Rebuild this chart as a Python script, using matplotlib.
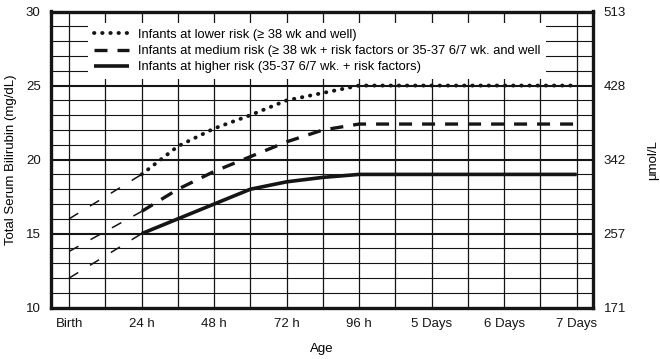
import matplotlib
matplotlib.use("Agg")
import matplotlib.pyplot as plt

plt.rcParams['font.family'] = ['Liberation Sans', 'DejaVu Sans']

# ======================================================
# Data (hours after birth, mg/dL)
# ======================================================

hours = [24, 36, 48, 60, 72, 84, 96, 168]

lower_risk = [19.0, 20.9, 22.1, 23.0, 24.0, 24.5, 25.0, 25.0]
medium_risk = [16.5, 18.0, 19.2, 20.2, 21.2, 22.0, 22.4, 22.4]
higher_risk = [15.0, 16.0, 17.0, 18.0, 18.5, 18.8, 19.0, 19.0]

# thin dashed extension back to birth
ext_hours = [0, 24]
lower_ext = [16.0, 19.0]
medium_ext = [13.8, 16.5]
higher_ext = [12.0, 15.0]

age_ticks = [0, 24, 48, 72, 96, 120, 144, 168]
age_labels = ["Birth", "24 h", "48 h", "72 h", "96 h",
              "5 Days", "6 Days", "7 Days"]

mg_ticks = [10, 15, 20, 25, 30]
umol_labels = ["171", "257", "342", "428", "513"]

labels = [
    "Infants at lower risk (\u2265 38 wk and well)",
    "Infants at medium risk (\u2265 38 wk + risk factors or 35-37 6/7 wk. and well",
    "Infants at higher risk (35-37 6/7 wk. + risk factors)",
]

# ======================================================
# Plot
# ======================================================

ink = '#151515'
fs = 9.5

fig = plt.figure(figsize=(6.6, 3.59), dpi=100)
ax = fig.add_axes([51/660, 1-307.7/359, 542.3/660, 296.2/359])

ax.set_xlim(-6.0, 173.5)
ax.set_ylim(10, 30)

# grid
for h in range(0, 169, 12):
    ax.axvline(h, color=ink, lw=0.9, zorder=1)
for v in range(11, 30):
    ax.axhline(v, color=ink, lw=1.5 if v % 5 == 0 else 0.8, zorder=1)

# extensions
for ext in (lower_ext, medium_ext, higher_ext):
    ax.plot(ext_hours, ext, color=ink, lw=1.1, dashes=(7, 9), zorder=3)

ax.plot(hours, lower_risk, color=ink, lw=2.8, dashes=(0.1, 2.0),
        dash_capstyle='round', zorder=4, label=labels[0])
ax.plot(hours, medium_risk, color=ink, lw=2.4, dashes=(3.9, 3.0),
        zorder=4, label=labels[1])
ax.plot(hours, higher_risk, color=ink, lw=2.6, zorder=4,
        solid_capstyle='butt', label=labels[2])

leg = ax.legend(loc='upper left', bbox_to_anchor=((88-51)/542.3, 1-(23-11.5)/296.2),
                borderaxespad=0, borderpad=0.45, fontsize=9.3,
                handlelength=2.7, handletextpad=0.7, labelspacing=0.33,
                frameon=True, fancybox=False, framealpha=1,
                facecolor='white', edgecolor='none')
leg.set_zorder(5)

for s in ax.spines.values():
    s.set_linewidth(2.4)
    s.set_color(ink)

ax.set_xticks(age_ticks)
ax.set_xticklabels(age_labels)
ax.set_yticks(mg_ticks)
ax.tick_params(length=0, labelsize=fs, pad=7.5, colors=ink)

ax.set_xlabel("Age", fontsize=fs)
ax.xaxis.set_label_coords(0.5, -0.12)
ax.set_ylabel("Total Serum Bilirubin (mg/dL)", fontsize=fs)
ax.yaxis.set_label_coords(-0.062, 0.5)

ax2 = ax.twinx()
ax2.set_ylim(10, 30)
ax2.set_yticks(mg_ticks)
ax2.set_yticklabels(umol_labels)
ax2.tick_params(length=0, labelsize=fs, pad=7.5, colors=ink)
for s in ax2.spines.values():
    s.set_visible(False)
ax2.set_ylabel("\u03bcmol/L", fontsize=fs, rotation=90)
ax2.yaxis.set_label_coords(1.1, 0.5)

fig.savefig("out.png", dpi=100)
